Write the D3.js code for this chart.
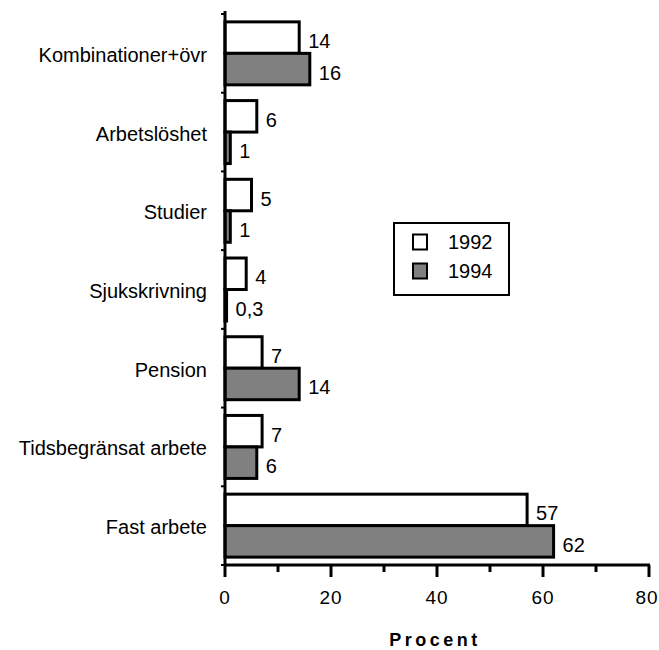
<!DOCTYPE html>
<html><head><meta charset="utf-8">
<script src="https://d3js.org/d3.v7.min.js"></script>
<style>body{margin:0;background:#fff}svg{display:block}</style>
</head><body><svg id="c" width="659" height="650"></svg>
<script>
const categories = ["Kombinationer+övr","Arbetslöshet","Studier","Sjukskrivning","Pension","Tidsbegränsat arbete","Fast arbete"];
const series = ["1992","1994"];
const values1992 = [14,6,5,4,7,7,57];
const values1994 = [16,1,1,0.3,14,6,62];
const xTicks = [0,20,40,60,80];
const colors = ["#ffffff","#808080"];

const svg = d3.select("#c");
const font = "Liberation Sans, Arial, sans-serif";
const x = d3.scaleLinear().domain([0,80]).range([225,649]);
const y = d3.scaleBand().domain(categories).range([14,565]).paddingInner(0.2).paddingOuter(0.1);
const yb = d3.scaleBand().domain(categories).range([14,565]);
const ys = d3.scaleBand().domain(series).range([0,y.bandwidth()]);

const data = [values1992, values1994];
series.forEach((s,i)=>{
  const g = svg.append("g");
  g.selectAll("rect").data(categories).enter().append("rect")
    .attr("x", x(0)).attr("y", (c)=>yb(c)+ (yb.bandwidth()-y.bandwidth())/2 + ys(s))
    .attr("width", (c,j)=>x(data[i][j])-x(0)).attr("height", ys.bandwidth())
    .attr("fill", colors[i]).attr("stroke","#000").attr("stroke-width",3);
  g.selectAll("text").data(categories).enter().append("text")
    .attr("x",(c,j)=>x(data[i][j])+9)
    .attr("y",(c)=>yb(c)+ (yb.bandwidth()-y.bandwidth())/2 + ys(s)+ys.bandwidth()/2+3.5)
    .attr("dominant-baseline","central")
    .attr("font-family",font).attr("font-size",20)
    .text((c,j)=>String(data[i][j]).replace(".",","));
});

// y axis
const yAxis = svg.append("g");
yAxis.append("line").attr("x1",x(0)).attr("x2",x(0)).attr("y1",yb.range()[0]-3).attr("y2",565).attr("stroke","#000").attr("stroke-width",3);
const bounds = categories.map(c=>yb(c)).concat([565]);
yAxis.selectAll(".yt").data(bounds).enter().append("line")
  .attr("x1",x(0)-4).attr("x2",x(0)).attr("y1",d=>d).attr("y2",d=>d).attr("stroke","#000").attr("stroke-width",2);
yAxis.selectAll("text").data(categories).enter().append("text")
  .attr("x",207).attr("y",c=>yb(c)+yb.bandwidth()/2+1.5).attr("text-anchor","end").attr("dominant-baseline","central")
  .attr("font-family",font).attr("font-size",20).text(c=>c);

// x axis
const xa = svg.append("g");
xa.append("line").attr("x1",x(0)-1).attr("x2",x(80)+1).attr("y1",565).attr("y2",565).attr("stroke","#000").attr("stroke-width",3);
const minor = d3.range(10,80,20);
xa.selectAll(".mj").data(xTicks).enter().append("line")
  .attr("x1",d=>x(d)).attr("x2",d=>x(d)).attr("y1",565).attr("y2",577).attr("stroke","#000").attr("stroke-width",3);
xa.selectAll(".mn").data(minor).enter().append("line")
  .attr("x1",d=>x(d)).attr("x2",d=>x(d)).attr("y1",565).attr("y2",572).attr("stroke","#000").attr("stroke-width",3);
xa.selectAll("text").data(xTicks).enter().append("text")
  .attr("x",d=>d===80 ? x(d)-2 : x(d)).attr("y",597).attr("text-anchor","middle").attr("dominant-baseline","central")
  .attr("font-family",font).attr("font-size",19).attr("letter-spacing",1).text(d=>d);
svg.append("text").attr("x",435).attr("y",640).attr("text-anchor","middle").attr("dominant-baseline","central")
  .attr("font-family",font).attr("font-size",18).attr("font-weight","bold").attr("letter-spacing",3.5).text("Procent");

// legend
const lg = svg.append("g");
lg.append("rect").attr("x",394).attr("y",223).attr("width",115).attr("height",72).attr("fill","#fff").attr("stroke","#000").attr("stroke-width",2);
series.forEach((s,i)=>{
  const cy = 242 + i*29;
  lg.append("rect").attr("x",413).attr("y",cy-7.5).attr("width",14).attr("height",15).attr("fill",colors[i]).attr("stroke","#000").attr("stroke-width",2);
  lg.append("text").attr("x",448).attr("y",cy).attr("dominant-baseline","central").attr("font-family",font).attr("font-size",20).text(s);
});
</script></body></html>
